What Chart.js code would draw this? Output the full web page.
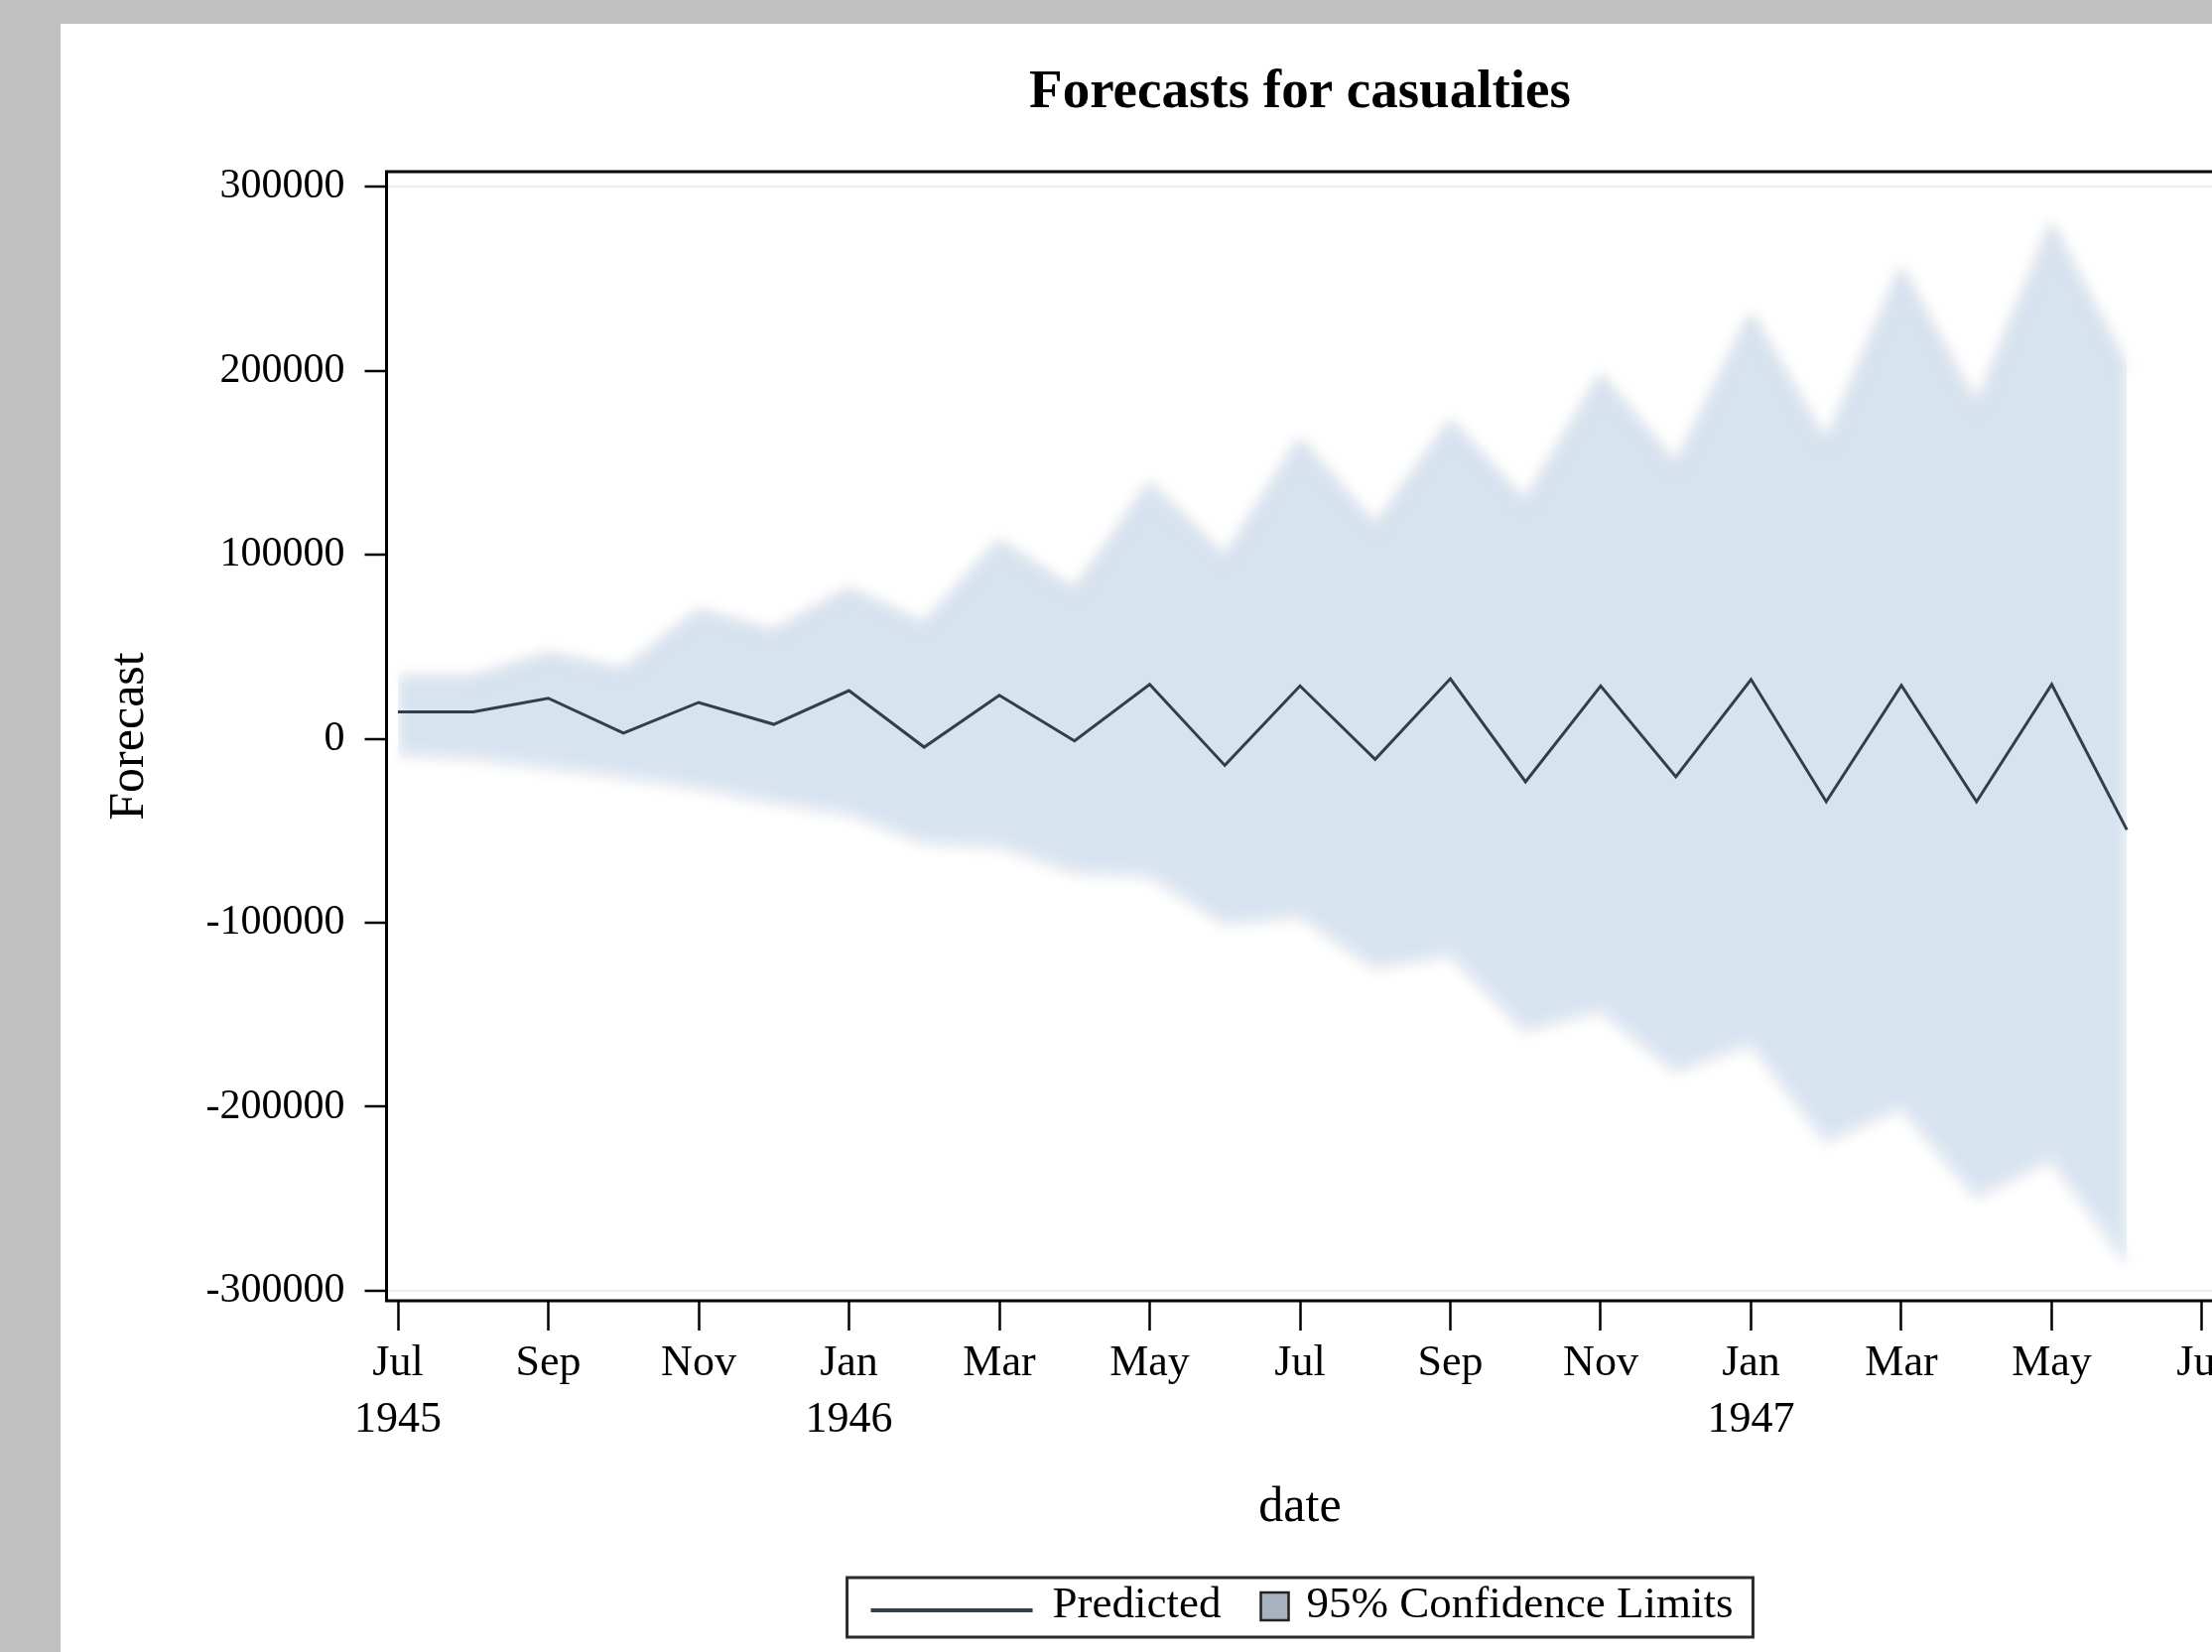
<!DOCTYPE html>
<html>
<head>
<meta charset="utf-8">
<title>Forecasts for casualties</title>
<script src="https://cdn.jsdelivr.net/npm/chart.js@4/dist/chart.umd.min.js"></script>
<style>
  html, body { margin: 0; padding: 0; width: 2229px; height: 1665px; overflow: hidden; background: #c0c0c0; }
  #panel { position: absolute; left: 61px; top: 24px; width: 2168px; height: 1641px; background: #ffffff; }
  #chart { position: absolute; left: 0; top: 0; }
</style>
</head>
<body>
<div id="panel"></div>
<canvas id="chart" width="2620" height="1665"></canvas>
<script>
// Monthly forecast horizon, Jul 1945 .. Jun 1947 (x = month index from Jul 1945)
const months = [
  'Jul 1945', 'Aug 1945', 'Sep 1945', 'Oct 1945', 'Nov 1945', 'Dec 1945',
  'Jan 1946', 'Feb 1946', 'Mar 1946', 'Apr 1946', 'May 1946', 'Jun 1946',
  'Jul 1946', 'Aug 1946', 'Sep 1946', 'Oct 1946', 'Nov 1946', 'Dec 1946',
  'Jan 1947', 'Feb 1947', 'Mar 1947', 'Apr 1947', 'May 1947', 'Jun 1947'
];

// Predicted casualties
const predicted = [
  14600, 14600, 22000, 3000, 19700, 7800,
  26100, -4600, 23600, -1200, 29500, -14500,
  28700, -11200, 32600, -23400, 28700, -20700,
  32200, -34200, 29000, -34200, 29500, -49500
];

// 95% confidence limits
const upper95 = [
  33000, 33000, 46000, 37000, 69000, 58000,
  81000, 62000, 107000, 80000, 138000, 98000,
  162000, 115000, 172000, 128000, 197000, 148000,
  230000, 160000, 255000, 180000, 279000, 200000
];
const lower95 = [
  -8000, -10000, -15000, -20000, -26000, -34000,
  -40000, -56000, -58000, -72000, -74000, -100000,
  -96000, -124000, -117000, -158000, -147000, -180000,
  -165000, -218000, -200000, -248000, -228000, -284000
];

// Axis ticks
const xTickMonths = [0, 2, 4, 6, 8, 10, 12, 14, 16, 18, 20, 22, 24];
const xTickLabels = ['Jul 1945', 'Sep', 'Nov', 'Jan 1946', 'Mar', 'May', 'Jul',
                     'Sep', 'Nov', 'Jan 1947', 'Mar', 'May', 'Jul'];
const yTickValues = [300000, 200000, 100000, 0, -100000, -200000, -300000];
const yTickLabels = ['300000', '200000', '100000', '0', '-100000', '-200000', '-300000'];

const serif = "'Liberation Serif', 'Times New Roman', serif";
const ink = '#000000';
const lineColor = '#343e4a';
const bandColor = '#d8e3f0';
const bandEdge = 'rgba(150,162,180,0.45)';
const swatchColor = '#a9b3bf';

const asPoints = arr => arr.map((v, i) => ({ x: i, y: v }));

// Soft (blurred) confidence band; the predicted line stays sharp
const bandBlur = {
  id: 'bandBlur',
  beforeDatasetsDraw(chart) {
    chart.ctx.save();
    chart.ctx.filter = 'blur(7px)';
  },
  afterDatasetDraw(chart, args) {
    if (args.index === 1) chart.ctx.restore();
  }
};

// Black frame around the plot area
const frame = {
  id: 'frame',
  afterDatasetsDraw(chart) {
    const { ctx, chartArea: a } = chart;
    ctx.save();
    ctx.strokeStyle = ink;
    ctx.lineWidth = 3;
    ctx.strokeRect(a.left, a.top, a.right - a.left, a.bottom - a.top);
    ctx.restore();
  }
};

// Boxed legend under the axis title
const boxedLegend = {
  id: 'boxedLegend',
  afterDraw(chart) {
    const { ctx, chartArea: a } = chart;
    const ds = chart.data.datasets;
    const xs = chart.scales.x;
    ctx.save();
    ctx.font = '45px ' + serif;
    const t1 = ds[0].label, t2 = ds[1].label;
    const w1 = ctx.measureText(t1).width, w2 = ctx.measureText(t2).width;
    const lineLen = 163, sw = 28;
    const total = 24 + lineLen + 20 + w1 + 40 + sw + 18 + w2 + 20;
    const left = (a.left + a.right) / 2 - total / 2;
    const top = xs.bottom + 30, h = 60, midY = top + h / 2;

    ctx.strokeStyle = '#2b2b2b';
    ctx.lineWidth = 3;
    ctx.strokeRect(left, top, total, h);

    let x = left + 24;
    ctx.strokeStyle = ds[0].borderColor;
    ctx.lineWidth = 4;
    ctx.beginPath();
    ctx.moveTo(x, midY + 3);
    ctx.lineTo(x + lineLen, midY + 3);
    ctx.stroke();
    x += lineLen + 20;

    ctx.fillStyle = ink;
    ctx.textAlign = 'left';
    ctx.textBaseline = 'middle';
    ctx.fillText(t1, x, midY - 2);
    x += w1 + 40;

    ctx.fillStyle = swatchColor;
    ctx.fillRect(x, midY - 15, sw, sw);
    ctx.strokeStyle = '#222';
    ctx.lineWidth = 2.5;
    ctx.strokeRect(x, midY - 15, sw, sw);
    x += sw + 18;

    ctx.fillStyle = ink;
    ctx.fillText(t2, x, midY - 2);
    ctx.restore();
  }
};

new Chart(document.getElementById('chart'), {
  type: 'line',
  data: {
    datasets: [
      {
        label: 'Predicted',
        data: asPoints(predicted),
        borderColor: lineColor,
        borderWidth: 3,
        pointRadius: 0,
        tension: 0,
        fill: false
      },
      {
        label: '95% Confidence Limits',
        data: asPoints(upper95),
        borderColor: bandEdge,
        borderWidth: 3,
        backgroundColor: bandColor,
        pointRadius: 0,
        tension: 0,
        fill: '+1'
      },
      {
        label: 'Lower 95%',
        data: asPoints(lower95),
        borderColor: bandEdge,
        borderWidth: 3,
        pointRadius: 0,
        tension: 0,
        fill: false
      }
    ]
  },
  options: {
    responsive: false,
    animation: false,
    devicePixelRatio: 1,
    events: [],
    layout: { padding: { left: 0, right: 0, top: 0, bottom: 105 } },
    plugins: {
      legend: { display: false },
      tooltip: { enabled: false },
      filler: { drawTime: 'beforeDatasetDraw' },
      title: {
        display: true,
        text: 'Forecasts for casualties',
        color: ink,
        font: { family: serif, size: 55, weight: 'bold', lineHeight: 1.2 },
        padding: { top: 61, bottom: 46 }
      }
    },
    scales: {
      x: {
        type: 'linear',
        min: -0.152,
        max: 24.152,
        bounds: 'data',
        afterFit: s => { s.height = 249; },
        afterBuildTicks: s => { s.ticks = xTickMonths.map(v => ({ value: v })); },
        ticks: {
          autoSkip: false,
          maxRotation: 0,
          padding: 5,
          color: ink,
          font: { family: serif, size: 44, lineHeight: 1.3 },
          callback: (v, i) => xTickLabels[i].split(' ')
        },
        grid: {
          drawOnChartArea: false,
          drawTicks: true,
          tickLength: 30,
          tickWidth: 2.5,
          tickColor: ink,
          color: ink
        },
        border: { display: false },
        title: {
          display: true,
          text: 'date',
          color: ink,
          font: { family: serif, size: 50, lineHeight: 1.2 },
          padding: { top: 0, bottom: 10 }
        }
      },
      y: {
        type: 'linear',
        position: 'left',
        min: -305400,
        max: 308100,
        bounds: 'data',
        afterFit: s => { s.width = 389.5; },
        afterBuildTicks: s => { s.ticks = yTickValues.map(v => ({ value: v })); },
        ticks: {
          padding: 20,
          color: ink,
          font: { family: serif, size: 42 },
          callback: (v, i) => yTickLabels[i]
        },
        grid: {
          drawOnChartArea: true,
          color: c => (c.tick && Math.abs(c.tick.value) === 300000) ? '#ececec' : 'rgba(0,0,0,0)',
          lineWidth: 2,
          tickLength: 22,
          tickWidth: 2.5,
          tickColor: ink
        },
        border: { display: false },
        title: {
          display: true,
          text: 'Forecast',
          color: ink,
          font: { family: serif, size: 50, lineHeight: 1.2 },
          padding: { top: 101, bottom: 0 }
        }
      },
      // empty right-hand margin box so the page title centres over the plot
      yRight: {
        type: 'linear',
        position: 'right',
        afterFit: s => { s.width = 389.5; },
        ticks: { display: false },
        grid: { display: false },
        border: { display: false }
      }
    }
  },
  plugins: [bandBlur, frame, boxedLegend]
});
</script>
</body>
</html>
